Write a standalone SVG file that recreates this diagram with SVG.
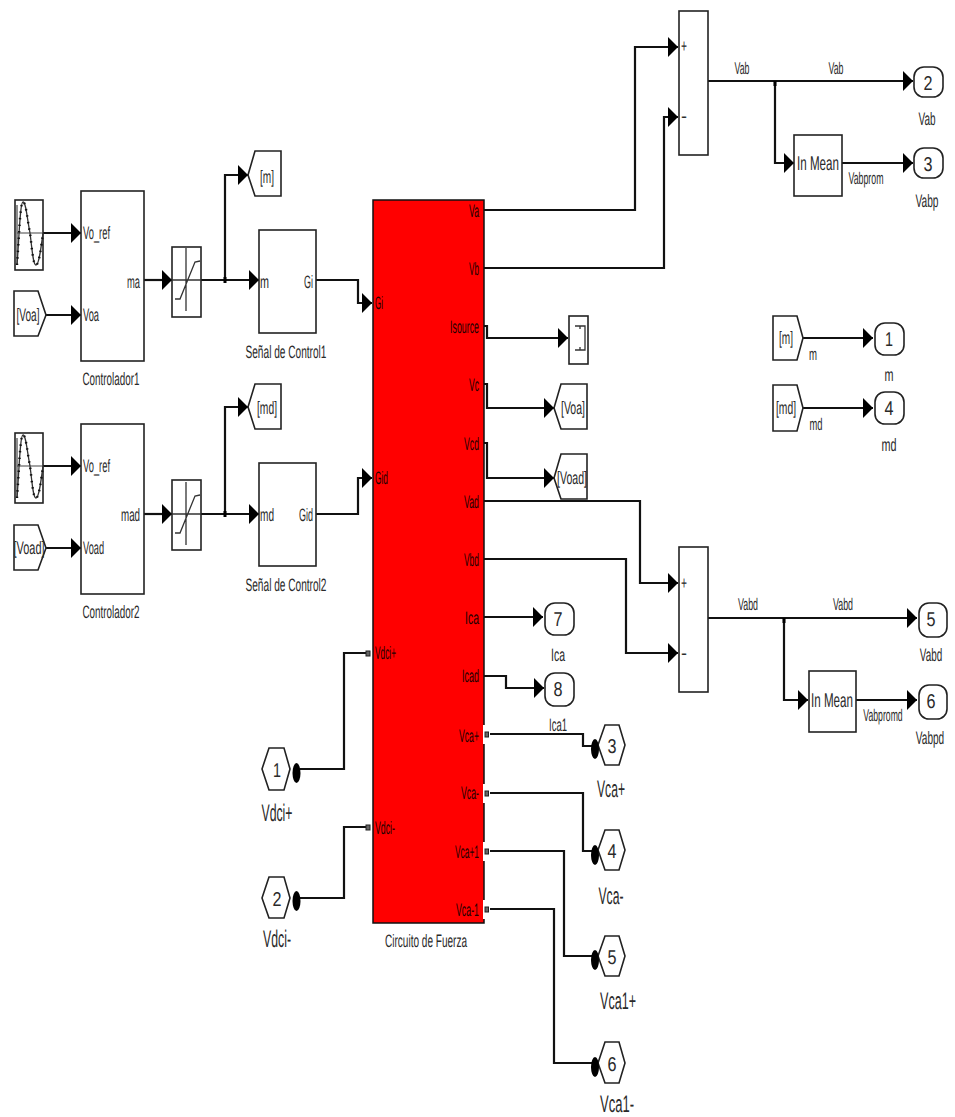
<svg xmlns="http://www.w3.org/2000/svg" width="955" height="1117" viewBox="0 0 955 1117">
<style>
text{font-family:"Liberation Sans",Arial,sans-serif;font-size:18px;fill:#2a2a2a;text-anchor:middle;text-rendering:geometricPrecision}
.s{font-size:17px}
.l{font-size:24px}
.m{font-size:20px}
.st{text-anchor:start}
.e{text-anchor:end}
.k{fill:#200}
.b{fill:#fff;stroke:#222;stroke-width:1.6}
.i{fill:none;stroke:#333;stroke-width:1.3}
.c{fill:none;stroke:#111;stroke-width:2.2}
.a{marker-end:url(#ah)}
.d{fill:#000}
.t{fill:#666;stroke:#222;stroke-width:1}
</style>
<defs>
<marker id="ah" markerUnits="userSpaceOnUse" viewBox="0 0 10 20" refX="10" refY="10" markerWidth="10" markerHeight="20" orient="auto"><path d="M0 0L10 10L0 20Z" fill="#000"/></marker>
<g id="sine"><path d="M2 5L2 65M2 33L28 33" fill="none" stroke="#444" stroke-width="1.2"/><path d="M2 65C4 40 5 2 8 2C11 2 12 18 15 33C17 48 18 65 21 65C24 65 26 48 28 33" fill="none" stroke="#333" stroke-width="1.3"/><path d="M2 65C4 40 5 2 8 2C11 2 12 18 15 33C17 48 18 65 21 65C24 65 26 48 28 33" fill="none" stroke="#111" stroke-width="2.4" stroke-dasharray="1.500 5"/></g>
<path id="sat" d="M0 35L29 35M14 3L14 66M3 54L8 54L23 17L28 16" fill="none" stroke="#333" stroke-width="1.3"/>
</defs>

<g id="connectors">
<path class="c a" d="M43 233L81 233"/>
<path class="c a" d="M46 315L81 315"/>
<path class="c a" d="M144 280L172 280"/>
<path class="c a" d="M201 280L259 280"/>
<path class="c a" d="M225 280L225 175L248 175"/>
<path class="c a" d="M316 280L358 280L358 303L372 303"/>
<path class="c a" d="M43 466L81 466"/>
<path class="c a" d="M46 548L81 548"/>
<path class="c a" d="M144 514L172 514"/>
<path class="c a" d="M201 514L259 514"/>
<path class="c a" d="M225 514L225 407L248 407"/>
<path class="c a" d="M316 514L358 514L358 478L372 478"/>
<path class="c a" d="M484 210L635 210L635 47L678 47"/>
<path class="c a" d="M484 268L664 268L664 117L678 117"/>
<path class="c a" d="M484 326L487 326L487 338L568 338"/>
<path class="c a" d="M484 384L487 384L487 408L554 408"/>
<path class="c a" d="M484 443L487 443L487 478L554 478"/>
<path class="c a" d="M484 501L640 501L640 583L678 583"/>
<path class="c a" d="M484 559L626 559L626 653L678 653"/>
<path class="c a" d="M484 617L543 617"/>
<path class="c a" d="M484 676L506 676L506 688L544 688"/>
<path class="c" d="M490 734L583 734L583 746L592 746"/>
<path class="c" d="M490 793L583 793L583 851L592 851"/>
<path class="c" d="M490 851L564 851L564 956L592 956"/>
<path class="c" d="M490 909L554 909L554 1063L592 1063"/>
<path class="c" d="M300 769L344 769L344 653L367 653"/>
<path class="c" d="M300 898L344 898L344 827L367 827"/>
<path class="c a" d="M708 81L913 81"/>
<path class="c a" d="M775 81L775 163L794 163"/>
<path class="c a" d="M842 163L913 163"/>
<path class="c a" d="M708 618L917 618"/>
<path class="c a" d="M784 618L784 700L808 700"/>
<path class="c a" d="M856 700L917 700"/>
<path class="c a" d="M803 338L873 338"/>
<path class="c a" d="M803 408L873 408"/>
<rect class="d" x="223.500" y="277" width="3" height="6"/>
<rect class="d" x="223.500" y="511" width="3" height="6"/>
<rect class="d" x="773.500" y="81" width="3" height="5"/>
<rect class="d" x="782.500" y="618" width="3" height="5"/>
<text class="s" x="742" y="74" textLength="15" lengthAdjust="spacingAndGlyphs">Vab</text>
<text class="s" x="836" y="74" textLength="15" lengthAdjust="spacingAndGlyphs">Vab</text>
<text class="s" x="866" y="184" textLength="35" lengthAdjust="spacingAndGlyphs">Vabprom</text>
<text class="s" x="748" y="610" textLength="20" lengthAdjust="spacingAndGlyphs">Vabd</text>
<text class="s" x="843" y="610" textLength="20" lengthAdjust="spacingAndGlyphs">Vabd</text>
<text class="s" transform="translate(883 721) scale(.51 1)">Vabpromd</text>
<text class="s" x="813" y="360" textLength="8" lengthAdjust="spacingAndGlyphs">m</text>
<text class="s" x="816" y="430" textLength="13" lengthAdjust="spacingAndGlyphs">md</text>
</g>

<g id="sine1"><rect class="b" x="15" y="200" width="28" height="70"/><use href="#sine" x="15" y="200"/></g>
<g id="goto-voa-in"><polygon class="b" points="14,291 38,291 46,315 38,336 14,336"/><text x="28" y="321" textLength="23" lengthAdjust="spacingAndGlyphs">[Voa]</text></g>
<g id="controlador1"><rect class="b" x="81" y="191" width="63" height="170"/>
<text class="st" x="83" y="239" textLength="27" lengthAdjust="spacingAndGlyphs">Vo_ref</text><text class="st" x="83" y="321" textLength="16" lengthAdjust="spacingAndGlyphs">Voa</text><text class="e" x="140" y="288" textLength="13" lengthAdjust="spacingAndGlyphs">ma</text>
<text x="111" y="385" textLength="57" lengthAdjust="spacingAndGlyphs">Controlador1</text></g>
<g id="sat1"><rect class="b" x="172" y="247" width="29" height="70"/><use href="#sat" x="172" y="245"/></g>
<g id="goto-m"><polygon class="b" points="248,175 255,151 281,151 281,196 255,196"/><text x="267" y="183" textLength="14" lengthAdjust="spacingAndGlyphs">[m]</text></g>
<g id="senal1"><rect class="b" x="259" y="230" width="57" height="103"/>
<text class="st" x="260" y="288" textLength="9" lengthAdjust="spacingAndGlyphs">m</text><text class="e" x="313" y="288" textLength="9" lengthAdjust="spacingAndGlyphs">Gi</text>
<text x="286" y="358" textLength="81" lengthAdjust="spacingAndGlyphs">Señal de Control1</text></g>

<g id="sine2"><rect class="b" x="15" y="433" width="28" height="70"/><use href="#sine" x="15" y="433"/></g>
<g id="goto-voad-in"><polygon class="b" points="14,525 38,525 46,548 38,570 14,570"/><text x="29" y="554" textLength="31" lengthAdjust="spacingAndGlyphs">[Voad]</text></g>
<g id="controlador2"><rect class="b" x="81" y="424" width="63" height="170"/>
<text class="st" x="83" y="472" textLength="27" lengthAdjust="spacingAndGlyphs">Vo_ref</text><text class="st" x="83" y="554" textLength="21" lengthAdjust="spacingAndGlyphs">Voad</text><text class="e" x="140" y="521" textLength="19" lengthAdjust="spacingAndGlyphs">mad</text>
<text x="111" y="618" textLength="57" lengthAdjust="spacingAndGlyphs">Controlador2</text></g>
<g id="sat2"><rect class="b" x="172" y="480" width="29" height="70"/><use href="#sat" x="172" y="479"/></g>
<g id="goto-md"><polygon class="b" points="248,407 255,384 281,384 281,429 255,429"/><text x="267" y="414" textLength="20" lengthAdjust="spacingAndGlyphs">[md]</text></g>
<g id="senal2"><rect class="b" x="259" y="463" width="57" height="103"/>
<text class="st" x="260" y="521" textLength="14" lengthAdjust="spacingAndGlyphs">md</text><text class="e" x="313" y="521" textLength="14" lengthAdjust="spacingAndGlyphs">Gid</text>
<text x="286" y="591" textLength="81" lengthAdjust="spacingAndGlyphs">Señal de Control2</text></g>

<g id="circuito">
<rect x="373" y="200" width="111" height="723" fill="#f00" stroke="#111" stroke-width="1.5"/>
<text class="st k" x="375" y="309" textLength="8" lengthAdjust="spacingAndGlyphs">Gi</text>
<text class="st k" x="375" y="484" textLength="13" lengthAdjust="spacingAndGlyphs">Gid</text>
<text class="st k" x="375" y="659" textLength="21" lengthAdjust="spacingAndGlyphs">Vdci+</text>
<text class="st k" x="375" y="834" textLength="20" lengthAdjust="spacingAndGlyphs">Vdci-</text>
<text class="e k" x="479" y="217" textLength="10" lengthAdjust="spacingAndGlyphs">Va</text>
<text class="e k" x="479" y="275" textLength="10" lengthAdjust="spacingAndGlyphs">Vb</text>
<text class="e k" x="479" y="333" textLength="29" lengthAdjust="spacingAndGlyphs">Isource</text>
<text class="e k" x="479" y="391" textLength="10" lengthAdjust="spacingAndGlyphs">Vc</text>
<text class="e k" x="479" y="450" textLength="15" lengthAdjust="spacingAndGlyphs">Vcd</text>
<text class="e k" x="479" y="508" textLength="15" lengthAdjust="spacingAndGlyphs">Vad</text>
<text class="e k" x="479" y="566" textLength="15" lengthAdjust="spacingAndGlyphs">Vbd</text>
<text class="e k" x="479" y="624" textLength="14" lengthAdjust="spacingAndGlyphs">Ica</text>
<text class="e k" x="479" y="682" textLength="17" lengthAdjust="spacingAndGlyphs">Icad</text>
<text class="e k" x="479" y="742" textLength="20" lengthAdjust="spacingAndGlyphs">Vca+</text>
<text class="e k" x="479" y="799" textLength="18" lengthAdjust="spacingAndGlyphs">Vca-</text>
<text class="e k" x="479" y="858" textLength="24" lengthAdjust="spacingAndGlyphs">Vca+1</text>
<text class="e k" x="479" y="916" textLength="23" lengthAdjust="spacingAndGlyphs">Vca-1</text>
<rect x="483" y="725" width="7" height="19" fill="#fff"/><rect x="483" y="784" width="7" height="19" fill="#fff"/><rect x="483" y="842" width="7" height="19" fill="#fff"/><rect x="483" y="900" width="7" height="19" fill="#fff"/>
<rect class="t" x="485" y="732" width="3.500" height="5"/><rect class="t" x="485" y="791" width="3.500" height="5"/><rect class="t" x="485" y="849" width="3.500" height="5"/><rect class="t" x="485" y="907" width="3.500" height="5"/>
<rect class="t" x="366" y="651" width="4" height="5"/><rect class="t" x="366" y="825" width="4" height="5"/>
<text x="426" y="947" textLength="82" lengthAdjust="spacingAndGlyphs">Circuito de Fuerza</text>
</g>

<g id="scope"><rect class="b" x="569" y="316" width="19" height="48"/><path class="i" d="M575 326L585 326L585 350L575 350M580 326L580 329M580 347L580 350"/></g>
<g id="goto-voa"><polygon class="b" points="554,408 561,384 587,384 587,429 561,429"/><text x="573" y="414" textLength="24" lengthAdjust="spacingAndGlyphs">[Voa]</text></g>
<g id="goto-voad"><polygon class="b" points="554,478 561,454 587,454 587,499 561,499"/><text x="572" y="484" textLength="30" lengthAdjust="spacingAndGlyphs">[Voad]</text></g>

<g id="sum1"><rect class="b" x="679" y="11" width="29" height="144"/><text class="st" x="681" y="52" textLength="6" lengthAdjust="spacingAndGlyphs">+</text><text class="st" x="681" y="122" textLength="6" lengthAdjust="spacingAndGlyphs">-</text></g>
<g id="sum2"><rect class="b" x="679" y="547" width="29" height="145"/><text class="st" x="681" y="589" textLength="6" lengthAdjust="spacingAndGlyphs">+</text><text class="st" x="681" y="659" textLength="6" lengthAdjust="spacingAndGlyphs">-</text></g>
<g id="mean1"><rect class="b" x="794" y="135" width="48" height="61"/><text class="m" transform="translate(818 170) scale(.58 1)">In Mean</text></g>
<g id="mean2"><rect class="b" x="809" y="671" width="47" height="61"/><text class="m" transform="translate(832 707) scale(.58 1)">In Mean</text></g>

<g id="out2"><rect class="b" x="914" y="67" width="29" height="30" rx="10"/><text class="m" x="928" y="90" textLength="9" lengthAdjust="spacingAndGlyphs">2</text><text x="927" y="125" textLength="17" lengthAdjust="spacingAndGlyphs">Vab</text></g>
<g id="out3"><rect class="b" x="914" y="148" width="29" height="30" rx="10"/><text class="m" x="928" y="171" textLength="9" lengthAdjust="spacingAndGlyphs">3</text><text x="927" y="207" textLength="23" lengthAdjust="spacingAndGlyphs">Vabp</text></g>
<g id="out1"><rect class="b" x="875" y="323" width="29" height="32" rx="10"/><text class="m" x="889" y="346" textLength="8" lengthAdjust="spacingAndGlyphs">1</text><text x="889" y="381" textLength="9" lengthAdjust="spacingAndGlyphs">m</text></g>
<g id="out4"><rect class="b" x="875" y="392" width="29" height="32" rx="10"/><text class="m" x="889" y="415" textLength="9" lengthAdjust="spacingAndGlyphs">4</text><text x="889" y="451" textLength="15" lengthAdjust="spacingAndGlyphs">md</text></g>
<g id="out5"><rect class="b" x="919" y="603" width="28" height="34" rx="10"/><text class="m" x="931" y="626" textLength="9" lengthAdjust="spacingAndGlyphs">5</text><text transform="translate(931 661) scale(.55 1)">Vabd</text></g>
<g id="out6"><rect class="b" x="919" y="685" width="28" height="34" rx="10"/><text class="m" x="931" y="708" textLength="9" lengthAdjust="spacingAndGlyphs">6</text><text transform="translate(930 744) scale(.56 1)">Vabpd</text></g>
<g id="out7"><rect class="b" x="545" y="603" width="29" height="32" rx="10"/><text class="m" x="558" y="626" textLength="9" lengthAdjust="spacingAndGlyphs">7</text><text x="558" y="661" textLength="14" lengthAdjust="spacingAndGlyphs">Ica</text></g>
<g id="out8"><rect class="b" x="545" y="673" width="29" height="33" rx="10"/><text class="m" x="558" y="696" textLength="9" lengthAdjust="spacingAndGlyphs">8</text><text x="558" y="731" textLength="18" lengthAdjust="spacingAndGlyphs">Ica1</text></g>

<g id="in1"><polygon class="b" points="262,769 269,748 284,748 290,769 284,790 269,790"/><text class="m" x="277" y="777" textLength="8" lengthAdjust="spacingAndGlyphs">1</text><ellipse class="d" cx="296.500" cy="773" rx="4" ry="10"/><text class="l" x="277" y="821" textLength="31" lengthAdjust="spacingAndGlyphs">Vdci+</text></g>
<g id="in2"><polygon class="b" points="262,898 269,877 284,877 290,898 284,918 269,918"/><text class="m" x="277" y="906" textLength="9" lengthAdjust="spacingAndGlyphs">2</text><ellipse class="d" cx="296.500" cy="901" rx="4" ry="10"/><text class="l" x="277" y="947" textLength="28" lengthAdjust="spacingAndGlyphs">Vdci-</text></g>
<g id="port3"><polygon class="b" points="598,745 605,725 619,725 625,745 619,765 605,765"/><text class="m" x="612" y="753" textLength="9" lengthAdjust="spacingAndGlyphs">3</text><ellipse class="d" cx="595" cy="749" rx="4" ry="10"/><text class="l" x="611" y="797" textLength="28" lengthAdjust="spacingAndGlyphs">Vca+</text></g>
<g id="port4"><polygon class="b" points="598,850 605,830 619,830 625,850 619,870 605,870"/><text class="m" x="612" y="858" textLength="9" lengthAdjust="spacingAndGlyphs">4</text><ellipse class="d" cx="595" cy="855" rx="4" ry="10"/><text class="l" x="611" y="904" textLength="25" lengthAdjust="spacingAndGlyphs">Vca-</text></g>
<g id="port5"><polygon class="b" points="598,956 605,936 619,936 625,956 619,976 605,976"/><text class="m" x="612" y="964" textLength="9" lengthAdjust="spacingAndGlyphs">5</text><ellipse class="d" cx="595" cy="960" rx="4" ry="10"/><text class="l" x="618" y="1009" textLength="36" lengthAdjust="spacingAndGlyphs">Vca1+</text></g>
<g id="port6"><polygon class="b" points="598,1063 605,1042 619,1042 625,1063 619,1083 605,1083"/><text class="m" x="612" y="1071" textLength="9" lengthAdjust="spacingAndGlyphs">6</text><ellipse class="d" cx="595" cy="1067" rx="4" ry="10"/><text class="l" x="617" y="1112" textLength="34" lengthAdjust="spacingAndGlyphs">Vca1-</text></g>

<g id="goto-m2"><polygon class="b" points="773,316 797,316 803,338 797,360 773,360"/><text x="786" y="344" textLength="14" lengthAdjust="spacingAndGlyphs">[m]</text></g>
<g id="goto-md2"><polygon class="b" points="773,385 797,385 803,408 797,431 773,431"/><text x="786" y="414" textLength="20" lengthAdjust="spacingAndGlyphs">[md]</text></g>
</svg>
